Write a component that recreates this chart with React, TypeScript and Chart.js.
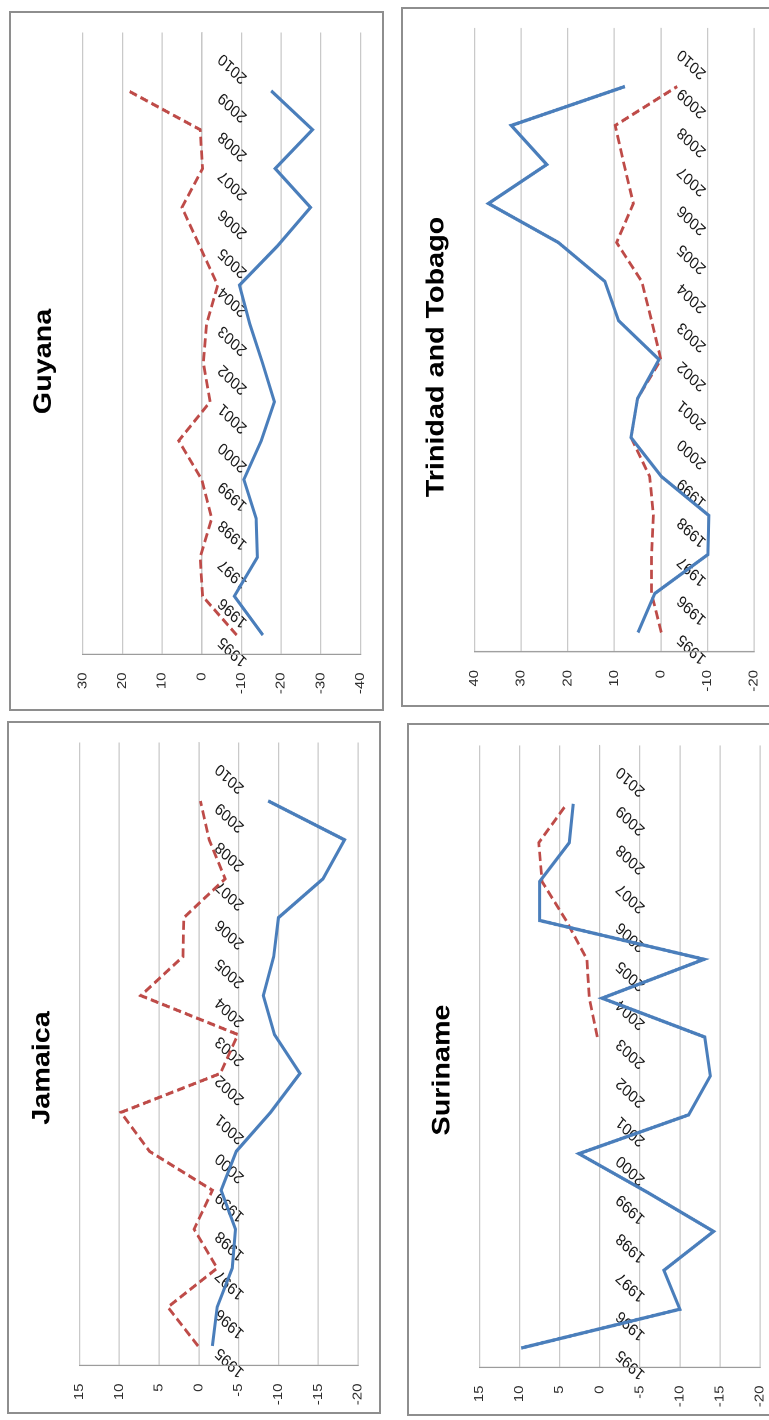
import { useEffect, useRef } from "react";
import { Chart, registerables } from "chart.js";

Chart.register(...registerables);

const FONT = '"Liberation Sans", Arial, sans-serif';

// Shared category axis
const years = [
  "1995", "1996", "1997", "1998", "1999", "2000", "2001", "2002",
  "2003", "2004", "2005", "2006", "2007", "2008", "2009", "2010",
];

// Guyana
const guyanaSolid = [-15.4, -8.2, -14.0, -13.7, -10.6, -15.0, -18.3, -15.3, -12.1, -9.5, -19.0, -27.4, -18.5, -27.9, -17.5, null];
const guyanaDashed = [-8.8, -0.2, 0.4, -2.5, 0.0, 5.8, -2.1, -0.4, -1.2, -4.0, 0.5, 5.0, -0.2, 0.4, 18.5, null];
const guyanaRange = [-40, 30, 10];

// Jamaica
const jamaicaSolid = [-1.7, -2.3, -4.2, -4.6, -2.8, -4.7, -9.0, -12.7, -9.5, -8.1, -9.4, -10.0, -15.6, -18.3, -8.7, null];
const jamaicaDashed = [0.1, 3.9, -2.3, 0.6, -1.7, 6.2, 9.8, -2.7, -4.9, 7.3, 2.0, 1.9, -3.3, -1.3, -0.2, null];
const jamaicaRange = [-20, 15, 5];

// Trinidad and Tobago
const trinidadSolid = [4.9, 1.3, -10.1, -10.3, -0.1, 6.4, 5.0, 0.4, 9.1, 12.0, 22.0, 37.0, 24.5, 32.1, 7.7, null];
const trinidadDashed = [-0.1, 2.0, 2.0, 1.6, 2.4, 6.4, 5.0, 0.0, 2.0, 4.1, 9.5, 5.9, 7.9, 9.8, -3.5, null];
const trinidadRange = [-20, 40, 10];

// Suriname
const surinameSolid = [9.8, -10.0, -8.0, -14.2, -6.0, 2.6, -11.1, -13.8, -13.1, -0.3, -13.0, 7.5, 7.5, 3.8, 3.3, null];
const surinameDashed = [null, null, null, null, null, null, null, null, 0.3, 1.3, 1.6, 4.2, 7.2, 7.6, 4.1, null];
const surinameRange = [-20, 15, 5];

// Page placement of each panel (page is laid out sideways: each chart is
// turned a quarter-turn counter-clockwise).
type Frame = {
  x: number; y: number; w: number; h: number;
  plotTop: number; plotBottom: number; gridTop: number; gridBottom: number;
};

const STRETCH = 1.15;

const titlePlugin = {
  id: "panelTitle",
  afterDraw(chart: any, _args: any, opts: any) {
    const { ctx, width } = chart;
    ctx.save();
    ctx.font = `bold ${opts.size}px ${FONT}`;
    ctx.fillStyle = opts.color;
    ctx.textAlign = "center";
    ctx.textBaseline = "alphabetic";
    ctx.fillText(opts.text, width / 2, opts.baseline);
    ctx.restore();
  },
};

function Panel({ title, solid, dashed, range, frame }: {
  title: string; solid: (number | null)[]; dashed: (number | null)[];
  range: number[]; frame: Frame;
}) {
  const ref = useRef<HTMLCanvasElement>(null);
  const cw = Math.round(frame.h / STRETCH);
  const s = frame.h / cw;
  const ch = frame.w;

  useEffect(() => {
    const canvas = ref.current;
    if (!canvas) return;
    const leftC = (frame.y + frame.h - frame.plotBottom) / s;
    const rightC = (frame.y + frame.h - frame.plotTop) / s;
    const topC = frame.gridTop - frame.x;
    const bottomC = frame.gridBottom - frame.x;
    const [min, max, step] = range;

    const chart = new Chart(canvas, {
      type: "line",
      data: {
        labels: years,
        datasets: [
          {
            data: solid,
            borderColor: "#4a7ebb",
            borderWidth: 3,
            pointRadius: 0,
            tension: 0,
            fill: false,
          },
          {
            data: dashed,
            borderColor: "#be4b48",
            borderWidth: 2.75,
            borderDash: [8, 4],
            pointRadius: 0,
            tension: 0,
            fill: false,
          },
        ],
      },
      options: {
        animation: false,
        responsive: false,
        devicePixelRatio: 2,
        events: [],
        layout: {
          padding: { left: 0, top: topC, right: cw - rightC, bottom: ch - bottomC },
        },
        plugins: {
          legend: { display: false },
          tooltip: { enabled: false },
          title: { display: false },
          panelTitle: { text: title, size: 25, color: "#000", baseline: 42 },
        } as any,
        scales: {
          x: {
            type: "category",
            offset: true,
            position: { y: 0 } as any,
            grid: { display: false, drawTicks: false },
            border: { display: true, color: "#c4c4c4", width: 1 },
            ticks: {
              autoSkip: false,
              minRotation: 50,
              maxRotation: 50,
              padding: 13,
              labelOffset: -4,
              font: { family: FONT, size: 14.5 },
              color: "#1a1a1a",
            },
          },
          y: {
            type: "linear",
            position: "left",
            min,
            max,
            grid: { color: "#c9c9c9", lineWidth: 1.2, drawTicks: false },
            border: { display: true, color: "#9c9c9c", width: 1.2 },
            ticks: {
              stepSize: step,
              padding: 18 / s,
              font: { family: FONT, size: 13 },
              color: "#2e2e2e",
            },
            afterFit: (scale: any) => {
              scale.width = leftC;
            },
          },
        },
      },
      plugins: [titlePlugin],
    });
    return () => chart.destroy();
  }, []);

  const cx = frame.x + frame.w / 2;
  const cy = frame.y + frame.h / 2;

  return (
    <>
      <div
        style={{
          position: "absolute",
          left: cx - cw / 2,
          top: cy - ch / 2,
          width: cw,
          height: ch,
          transformOrigin: "center center",
          transform: `rotate(-90deg) scaleX(${s})`,
        }}
      >
        <canvas ref={ref} width={cw} height={ch} />
      </div>
      <div
        style={{
          position: "absolute",
          left: frame.x,
          top: frame.y,
          width: frame.w,
          height: frame.h,
          border: "2px solid #8e8e8e",
          boxSizing: "border-box",
          pointerEvents: "none",
        }}
      />
    </>
  );
}

const panels = [
  { title: "Guyana", solid: guyanaSolid, dashed: guyanaDashed, range: guyanaRange,
    frame: { x: 9, y: 11, w: 375, h: 700, plotTop: 32, plotBottom: 654, gridTop: 82.7, gridBottom: 364 } },
  { title: "Jamaica", solid: jamaicaSolid, dashed: jamaicaDashed, range: jamaicaRange,
    frame: { x: 7, y: 721, w: 374, h: 693, plotTop: 742, plotBottom: 1365, gridTop: 79, gridBottom: 360 } },
  { title: "Trinidad and Tobago", solid: trinidadSolid, dashed: trinidadDashed, range: trinidadRange,
    frame: { x: 401, y: 7, w: 376, h: 700, plotTop: 28, plotBottom: 652, gridTop: 474, gridBottom: 754 } },
  { title: "Suriname", solid: surinameSolid, dashed: surinameDashed, range: surinameRange,
    frame: { x: 407, y: 723, w: 376, h: 693, plotTop: 745, plotBottom: 1367, gridTop: 479, gridBottom: 760 } },
];

export default function App() {
  return (
    <div
      style={{
        position: "fixed",
        left: 0,
        top: 0,
        width: 769,
        height: 1420,
        overflow: "hidden",
        background: "#ffffff",
      }}
    >
      {panels.map((p) => (
        <Panel key={p.title} {...p} />
      ))}
    </div>
  );
}
